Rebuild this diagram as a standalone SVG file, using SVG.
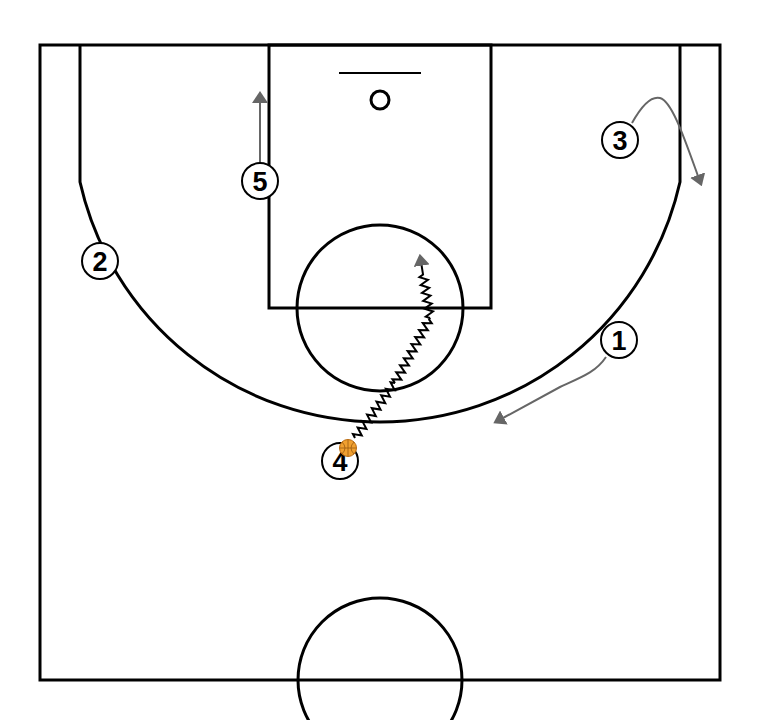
<svg xmlns="http://www.w3.org/2000/svg" width="760" height="720" viewBox="0 0 760 720">
<defs>
<style>
.court{fill:none;stroke:#000;stroke-width:3}
.mv{fill:none;stroke:#666;stroke-width:2}
.drb{fill:none;stroke:#000;stroke-width:2;stroke-linejoin:miter}
.pl circle{fill:#fff;stroke:#000;stroke-width:2}
.pl text{font-family:"Liberation Sans",Arial,sans-serif;font-weight:bold;font-size:27px;text-anchor:middle;fill:#000}
</style>
<marker id="ah" viewBox="0 0 12 16" markerWidth="12" markerHeight="16" refX="1" refY="8" orient="auto" markerUnits="userSpaceOnUse">
<path d="M0,0 L12,8 L0,16 z" fill="#666"/>
</marker>
</defs>
<rect width="760" height="720" fill="#fff"/>
<g id="court">
<rect class="court" x="40" y="45" width="680" height="635"/>
<path class="court" d="M80,45 V182 A307.5,307.5 0 0 0 680,182 V45"/>
<rect class="court" x="269" y="45" width="222" height="263"/>
<circle class="court" cx="380" cy="308" r="83"/>
<line x1="339" y1="73" x2="421" y2="73" stroke="#000" stroke-width="2"/>
<circle cx="380" cy="100" r="9" fill="none" stroke="#000" stroke-width="3"/>
<circle class="court" cx="380" cy="680" r="82"/>
</g>
<g id="connectors">
<line class="mv" x1="260" y1="163" x2="260" y2="102" marker-end="url(#ah)"/>
<path class="mv" d="M632,123 C642,105 652,96 660,98 C672,101 685,140 698,176" marker-end="url(#ah)"/>
<path class="mv" d="M606,357 C596,372 582,377 560,387 L503,418" marker-end="url(#ah)"/>
<g id="dribble">
<path class="drb" transform="translate(355,438) rotate(-54)" d="M0,0 l2,-4 l4,8 l4,-8 l4,8 l4,-8 l4,8 l4,-8 l4,8 l4,-8 l4,8 l4,-8 l4,8 l4,-8 l4,8 l4,-8 l4,8 l4,-8 l2,4"/>
<path class="drb" transform="translate(395,383) rotate(-61.7)" d="M0,0 l2,-4 l4,8 l4,-8 l4,8 l4,-8 l4,8 l4,-8 l4,8 l4,-8 l4,8 l4,-8 l4,8 l4,-8 l4,8 l4,-8 l4,8 l4,-8 l4,8 l2,-4 l2,0"/>
<path class="drb" transform="translate(430,318) rotate(-99.1)" d="M0,0 l2,-4 l4,8 l4,-8 l4,8 l4,-8 l4,8 l4,-8 l4,8 l4,-8 l4,8 l4,-8 l2,4 l10,0" marker-end="url(#ah)"/>
</g>
</g>
<g id="p1" class="pl"><circle cx="619" cy="340" r="18"/><text x="619" y="350">1</text></g>
<g id="p2" class="pl"><circle cx="100" cy="261" r="18"/><text x="100" y="271">2</text></g>
<g id="p3" class="pl"><circle cx="620" cy="140" r="18"/><text x="620" y="150">3</text></g>
<g id="p4" class="pl"><circle cx="340" cy="461" r="18"/><text x="340" y="471">4</text></g>
<g id="p5" class="pl"><circle cx="260" cy="181" r="18"/><text x="260" y="191">5</text></g>
<g id="ball">
<circle cx="348" cy="448" r="8.5" fill="#f0a030" stroke="#b86a10" stroke-width="1"/>
<path d="M340,448 H356 M348,440 V456 M342,442 Q348,448 342,454 M354,442 Q348,448 354,454" fill="none" stroke="#9a5a10" stroke-width="0.8"/>
</g>
</svg>
